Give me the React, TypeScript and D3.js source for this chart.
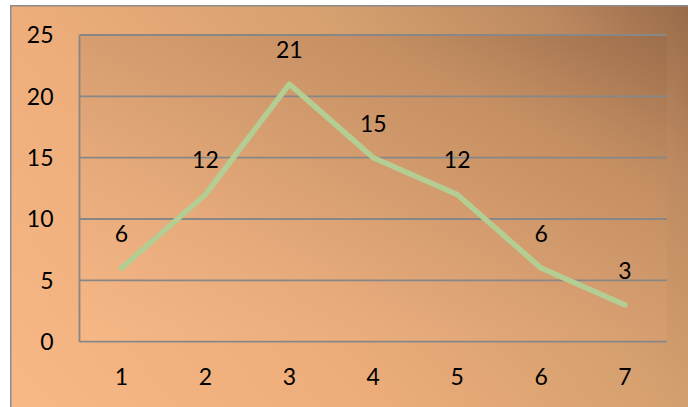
import React from "react";
import * as d3 from "d3";

const categories = ["1", "2", "3", "4", "5", "6", "7"];
const values = [6, 12, 21, 15, 12, 6, 3];
const yTicks = [0, 5, 10, 15, 20, 25];

const W = 688;
const H = 407;
const plot = { left: 79.5, right: 667, top: 35, bottom: 341.7 };
const FONT = "Lato, 'Open Sans', sans-serif";

export default function App() {
  const x = d3
    .scaleBand<string>()
    .domain(categories)
    .range([plot.left, plot.right])
    .padding(0);
  const y = d3.scaleLinear().domain([0, 25]).range([plot.bottom, plot.top]);
  const cx = (c: string) => (x(c) ?? 0) + x.bandwidth() / 2;

  const line = d3
    .line<number>()
    .x((_, i) => cx(categories[i]))
    .y((v) => y(v));

  return (
    <svg
      width={W}
      height={H}
      style={{ position: "absolute", left: 0, top: 0, display: "block" }}
    >
      <defs>
        <linearGradient
          id="chartBg"
          gradientUnits="userSpaceOnUse"
          x1={0}
          y1={407}
          x2={593}
          y2={-109}
        >
          <stop offset="0" stopColor="#f8b887" />
          <stop offset="0.34" stopColor="#eeae7b" />
          <stop offset="0.66" stopColor="#d49f6e" />
          <stop offset="0.85" stopColor="#bd8960" />
          <stop offset="1" stopColor="#976a48" />
        </linearGradient>
        <linearGradient id="plotBg" x1="0" y1="1" x2="1" y2="0">
          <stop offset="0" stopColor="#f7b886" />
          <stop offset="0.28" stopColor="#e8ab7c" />
          <stop offset="0.5" stopColor="#d69e70" />
          <stop offset="0.74" stopColor="#c58f63" />
          <stop offset="1" stopColor="#9c6e4b" />
        </linearGradient>
      </defs>

      <rect x={0} y={0} width={W} height={H} fill="#ffffff" />
      <rect
        x={10.75}
        y={5.75}
        width={W + 10}
        height={H + 10}
        fill="url(#chartBg)"
        stroke="#8c8c8c"
        strokeWidth={1.5}
      />

      <rect
        x={plot.left}
        y={plot.top}
        width={plot.right - plot.left}
        height={plot.bottom - plot.top}
        fill="url(#plotBg)"
      />

      {yTicks.map((t) => (
        <line
          key={`g${t}`}
          x1={plot.left}
          x2={plot.right}
          y1={y(t)}
          y2={y(t)}
          stroke="#878787"
          strokeWidth={1.8}
        />
      ))}
      <line
        x1={plot.left}
        x2={plot.left}
        y1={plot.top}
        y2={plot.bottom}
        stroke="#878787"
        strokeWidth={1.8}
      />

      {yTicks.map((t) => (
        <text
          key={`yl${t}`}
          x={53.5}
          y={y(t)}
          dy="0.36em"
          textAnchor="end"
          fontFamily={FONT}
          fontSize={23}
          fill="#000"
        >
          {t}
        </text>
      ))}

      {categories.map((c) => (
        <text
          key={`xl${c}`}
          x={cx(c)}
          y={385}
          textAnchor="middle"
          fontFamily={FONT}
          fontSize={23}
          fill="#000"
        >
          {c}
        </text>
      ))}

      <path
        d={line(values) ?? ""}
        fill="none"
        stroke="#b3cd92"
        strokeWidth={5.5}
        strokeLinejoin="round"
        strokeLinecap="round"
      />

      {values.map((v, i) => (
        <text
          key={`dl${i}`}
          x={cx(categories[i])}
          y={y(v) - 26}
          textAnchor="middle"
          fontFamily={FONT}
          fontSize={23}
          fill="#000"
        >
          {v}
        </text>
      ))}
    </svg>
  );
}
